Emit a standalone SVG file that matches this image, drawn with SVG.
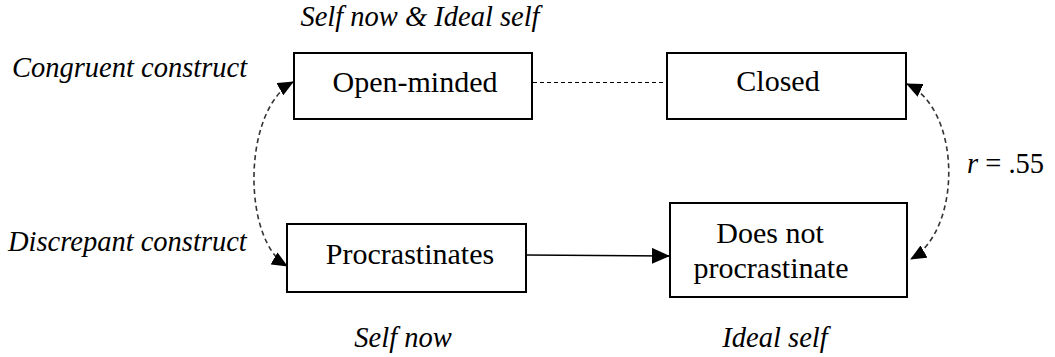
<svg xmlns="http://www.w3.org/2000/svg" width="1055" height="357" viewBox="0 0 1055 357">
<style>
.box{fill:#fff;stroke:#000;stroke-width:2}
.t{font-family:'Liberation Serif','Times New Roman',serif;font-size:30px;fill:#000;text-anchor:middle}
.lab{font-family:'Liberation Serif','Times New Roman',serif;font-size:28.5px;font-style:italic;fill:#000}
.rm{font-style:normal}
.it{font-style:italic}
.dash{fill:none;stroke:#000;stroke-width:1.2;stroke-dasharray:4 3}
.curve{fill:none;stroke:#333;stroke-width:1.6;stroke-dasharray:5 3.5}
.solid{fill:none;stroke:#000;stroke-width:1.4}
</style>
<defs>
<marker id="ah" markerUnits="userSpaceOnUse" markerWidth="18" markerHeight="16" refX="17" refY="8" orient="auto-start-reverse" viewBox="0 0 18 16">
<path d="M0 0 L18 8 L0 16 Z" fill="#000"/>
</marker>
<marker id="ah2" markerUnits="userSpaceOnUse" markerWidth="16" markerHeight="14" refX="15" refY="7" orient="auto-start-reverse" viewBox="0 0 16 14">
<path d="M0 0 L16 7 L0 14 Z" fill="#000"/>
</marker>
</defs>
<g id="labels">
<text class="lab" x="420" y="26" text-anchor="middle">Self now &amp; Ideal self</text>
<text class="lab" x="12" y="77">Congruent construct</text>
<text class="lab" x="8" y="251">Discrepant construct</text>
<text class="lab" x="403" y="347" text-anchor="middle">Self now</text>
<text class="lab" x="775" y="347" text-anchor="middle">Ideal self</text>
<text class="lab rm" x="967" y="173"><tspan class="it">r</tspan> = .55</text>
</g>
<g id="connectors">
<line class="dash" x1="533" y1="82.5" x2="667" y2="82.5"/>
<line class="solid" x1="527" y1="255" x2="669" y2="256" marker-end="url(#ah)"/>
<path class="curve" d="M293 82 C242 110 242 240 287 266" marker-start="url(#ah2)" marker-end="url(#ah2)"/>
<path class="curve" d="M907 84 C962 110 962 230 911 259" marker-start="url(#ah2)" marker-end="url(#ah2)"/>
</g>
<g id="node-open-minded">
<rect class="box" x="294" y="53" width="238" height="66"/>
<text class="t" x="415" y="92">Open-minded</text>
</g>
<g id="node-closed">
<rect class="box" x="667" y="53" width="239" height="66"/>
<text class="t" x="778" y="91">Closed</text>
</g>
<g id="node-procrastinates">
<rect class="box" x="287" y="224" width="239" height="68"/>
<text class="t" x="410" y="264">Procrastinates</text>
</g>
<g id="node-does-not">
<rect class="box" x="670" y="203" width="237" height="94"/>
<text class="t" x="770" y="243">Does not</text>
<text class="t" x="771" y="278">procrastinate</text>
</g>
</svg>
